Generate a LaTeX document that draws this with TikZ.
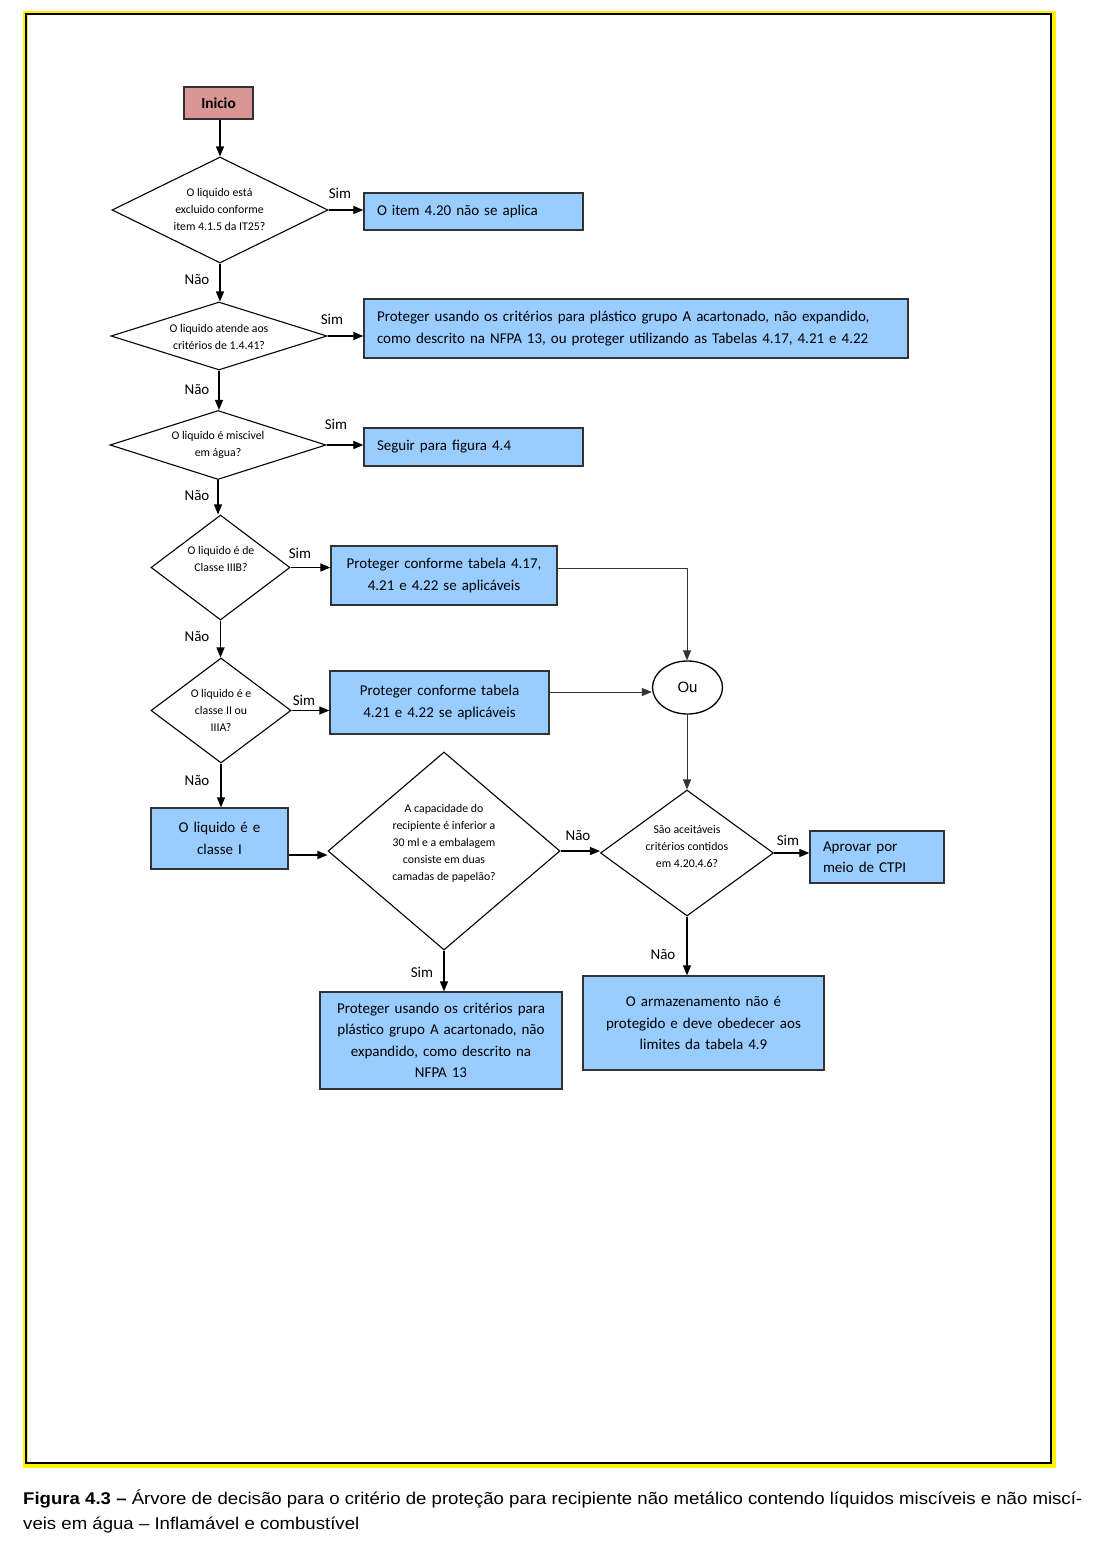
\documentclass[tikz,border=0pt]{standalone}
\usepackage{graphicx}
\usepackage{fontspec}
\setmainfont{Carlito}
\newfontfamily\arialf{Liberation Sans}
\usetikzlibrary{shapes.geometric,arrows.meta}
\definecolor{boxblue}{RGB}{153,204,255}
\definecolor{inipink}{RGB}{217,150,148}
\definecolor{edgegray}{RGB}{50,50,50}
\begin{document}
\begin{tikzpicture}[x=1pt,y=-1pt,
  bbox/.style={draw=edgegray,line width=1.3pt,fill=boxblue,rectangle,inner xsep=13pt,inner ysep=0pt,font=\fontsize{15}{21.5}\selectfont},
  dshape/.style={draw=black,line width=1.1pt,diamond,inner sep=0pt,fill=white},
  dtext/.style={align=center,font=\fontsize{11.8}{17}\selectfont,inner sep=0pt},
  lbl/.style={font=\fontsize{15}{17}\selectfont,inner sep=0pt},
  arr/.style={line width=1.2pt,-{Triangle[length=10pt,width=8pt]}},
  thinarr/.style={line width=0.9pt,draw=black!80,-{Triangle[length=10pt,width=8pt]}},
]
\useasboundingbox (0,0) rectangle (1111,1554);
% frame
\fill[yellow] (23,11) rectangle (1055.5,1468);
\fill[white] (27.5,15.5) rectangle (1050,1462);
\draw[black,line width=2.3pt] (26.2,14.2) rectangle (1051.2,1463);

% start
\node[draw=edgegray,line width=1.3pt,fill=inipink,minimum width=69pt,minimum height=32pt,inner sep=0pt,font=\fontsize{15.3}{17}\selectfont\bfseries] (ini) at (218.5,103) {Inicio};

% diamonds
\node[dshape,minimum width=216pt,minimum height=106pt] (d1) at (220,210) {};
\node[dtext] (t1) at (219.5,209) {O liquido está\\excluido conforme\\item 4.1.5 da IT25?};
\node[dshape,minimum width=216pt,minimum height=68pt] (d2) at (219,336) {};
\node[dtext] (t2) at (219,336.5) {O liquido atende aos\\critérios de 1.4.41?};
\node[dshape,minimum width=216pt,minimum height=69pt] (d3) at (218,445) {};
\node[dtext] (t3) at (218,444.5) {O liquido é miscivel\\em água?};
\node[dshape,minimum width=139pt,minimum height=105pt] (d4) at (220.5,567.5) {};
\node[dtext] (t4) at (221,558.5) {O liquido é de\\Classe IIIB?};
\node[dshape,minimum width=140pt,minimum height=105pt] (d5) at (221,710.5) {};
\node[dtext] (t5) at (221,710) {O liquido é e\\classe II ou\\IIIA?};
\node[dshape,minimum width=232pt,minimum height=198pt] (d6) at (444,851) {};
\node[dtext] (t6) at (444,843) {A capacidade do\\recipiente é inferior a\\30 ml e a embalagem\\consiste em duas\\camadas de papelão?};
\node[dshape,minimum width=173pt,minimum height=126pt] (d7) at (687,853) {};
\node[dtext] (t7) at (687,846) {São aceitáveis\\critérios contidos\\em 4.20.4.6?};

% boxes
\node[bbox,minimum width=219pt,minimum height=37pt,text width=193pt,align=left] (b1) at (473.5,211.5) {O item 4.20 não se aplica};
\node[bbox,minimum width=544pt,minimum height=59pt,text width=518pt,align=left] (b2) at (636,328.5) {Proteger usando os critérios para plástico grupo A acartonado, não expandido,\\como descrito na NFPA 13, ou proteger utilizando as Tabelas 4.17, 4.21 e 4.22};
\node[bbox,minimum width=219pt,minimum height=38pt,text width=193pt,align=left] (b3) at (473.5,447) {Seguir para figura 4.4};
\node[bbox,minimum width=226pt,minimum height=59pt,text width=216pt,inner xsep=5pt,align=center] (b4) at (444,575.5) {Proteger conforme tabela 4.17,\\4.21 e 4.22 se aplicáveis};
\node[bbox,minimum width=219pt,minimum height=63pt,text width=209pt,inner xsep=5pt,align=center] (b5) at (439.5,702.5) {Proteger conforme tabela\\4.21 e 4.22 se aplicáveis};
\node[bbox,minimum width=137pt,minimum height=61pt,text width=127pt,inner xsep=5pt,align=center] (b6) at (219.5,838.5) {O liquido é e\\classe I};
\node[bbox,minimum width=242pt,minimum height=97pt,text width=234pt,inner xsep=4pt,align=center] (b7) at (441,1040.5) {Proteger usando os critérios para\\plástico grupo A acartonado, não\\expandido, como descrito na\\NFPA 13};
\node[bbox,minimum width=134pt,minimum height=52pt,text width=108pt,align=left] (b8) at (877,857) {Aprovar por\\meio de CTPI};
\node[bbox,minimum width=241pt,minimum height=94pt,text width=233pt,inner xsep=4pt,align=center] (b9) at (703.5,1023) {O armazenamento não é\\protegido e deve obedecer aos\\limites da tabela 4.9};

% or
\node[ellipse,draw=black,line width=1.3pt,fill=white,minimum width=70pt,minimum height=53pt,inner sep=0pt,font=\arialf\fontsize{15}{17}\selectfont] (ou) at (687.5,687.5) {Ou};

% connectors
\draw[arr] (d1.north |- ini.south) -- (d1.north);
\draw[arr] (d1.east) -- (d1.east -| b1.west);
\draw[arr] (d1.south) -- (d1.south |- d2.north);
\draw[arr] (d2.east) -- (d2.east -| b2.west);
\draw[arr] (d2.south) -- (d2.south |- d3.north);
\draw[arr] (d3.east) -- (d3.east -| b3.west);
\draw[arr] (d3.south) -- (d3.south |- d4.north);
\draw[arr] (d4.east) -- (d4.east -| b4.west);
\draw[arr] (d4.south) -- (d4.south |- d5.north);
\draw[arr] (d5.east) -- (d5.east -| b5.west);
\draw[arr] (d5.south) -- (d5.south |- b6.north);
\draw[arr] ([yshift=-16.5pt]b6.east) -- ([yshift=-16.5pt]b6.east -| d6.west);
\draw[arr] (d6.east) -- (d6.east -| d7.west);
\draw[arr] (d6.south) -- (d6.south |- b7.north);
\draw[arr] (d7.east) -- (d7.east -| b8.west);
\draw[arr] (d7.south) -- (d7.south |- b9.north);
\draw[thinarr] ([yshift=7.5pt]b4.east) -| (d7.north |- ou.north);
\draw[thinarr] ([yshift=10.5pt]b5.east) -- ([yshift=10.5pt]b5.east -| ou.west);
\draw[thinarr] (d7.north |- ou.south) -- (d7.north);

% labels
\node[lbl] (l1) at (340,193) {Sim};
\node[lbl] (l2) at (197,280) {Não};
\node[lbl] (l3) at (332,319) {Sim};
\node[lbl] (l4) at (197,390) {Não};
\node[lbl] (l5) at (336,424) {Sim};
\node[lbl] (l6) at (197,496) {Não};
\node[lbl] (l7) at (300,553) {Sim};
\node[lbl] (l8) at (197,637) {Não};
\node[lbl] (l9) at (304,700) {Sim};
\node[lbl] (l10) at (197,781) {Não};
\node[lbl] (l11) at (578,836) {Não};
\node[lbl] (l12) at (422,972) {Sim};
\node[lbl] (l13) at (788,840) {Sim};
\node[lbl] (l14) at (663,955) {Não};

% caption
\node[anchor=north west,inner sep=0pt] (cap) at (23,1486.5) {\resizebox{1059pt}{\height}{\arialf\fontsize{17}{25}\selectfont\begin{tabular}{@{}l@{}}\textbf{Figura 4.3 –} Árvore de decisão para o critério de proteção para recipiente não metálico contendo líquidos miscíveis e não miscí-\\veis em água – Inflamável e combustível\end{tabular}}};
\end{tikzpicture}
\end{document}
